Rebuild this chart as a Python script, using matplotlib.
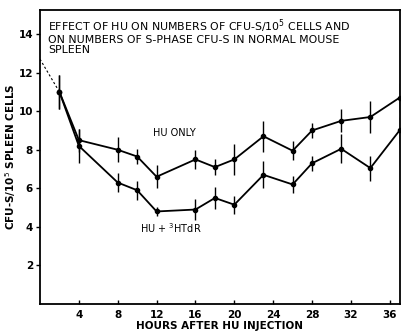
import matplotlib
matplotlib.use("Agg")
import matplotlib.pyplot as plt

hours = [2, 4, 8, 10, 12, 16, 18, 20, 23, 26, 28, 31, 34, 37]
hu_only = [11.0, 8.5, 8.0, 7.65, 6.6, 7.5, 7.1, 7.5, 8.7, 7.95, 9.0, 9.5, 9.7, 10.7]
hu_only_err = [0.9, 0.6, 0.65, 0.4, 0.6, 0.5, 0.4, 0.8, 0.8, 0.5, 0.4, 0.6, 0.85, 0.75]
hu_htdr = [11.0, 8.2, 6.3, 5.9, 4.8, 4.9, 5.5, 5.15, 6.7, 6.2, 7.3, 8.05, 7.05, 9.0]
hu_htdr_err = [0.9, 0.9, 0.5, 0.5, 0.25, 0.55, 0.55, 0.47, 0.7, 0.43, 0.4, 0.75, 0.65, 0.7]
extrap_x = [0, 2]
extrap_y = [12.7, 11.0]
xticks = [4, 8, 12, 16, 20, 24, 28, 32, 36]
yticks = [2, 4, 6, 8, 10, 12, 14]

plt.rcParams['font.family'] = ['DejaVu Sans']
fig = plt.figure(figsize=(4.02, 3.33), dpi=100)
ax = fig.add_axes([40/402, 1 - 304/333, 360/402, 294/333])

for y, e in [(hu_only, hu_only_err), (hu_htdr, hu_htdr_err)]:
    ax.errorbar(hours, y, yerr=e, color='black', lw=1.3, elinewidth=1.0,
                capsize=0, marker='o', ms=3)
ax.plot(extrap_x, extrap_y, color='black', lw=0.8, ls=(0, (2, 2)))

ax.set_xlim(0, 37.05)
ax.set_ylim(0, 15.25)
ax.set_xticks(xticks)
ax.set_yticks(yticks)
ax.set_xticklabels([str(t) for t in xticks], fontsize=7.5, fontweight='bold')
ax.set_yticklabels([str(t) for t in yticks], fontsize=7.5, fontweight='bold')
ax.tick_params(axis='x', direction='in', length=3, width=1, pad=4)
ax.tick_params(axis='y', direction='out', length=3, width=1, pad=2)
for s in ax.spines.values():
    s.set_linewidth(1.3)

ax.set_xlabel('HOURS AFTER HU INJECTION', fontsize=7.5, fontweight='bold', labelpad=1)
ax.set_ylabel('CFU-S/10$^5$ SPLEEN CELLS', fontsize=7.5, fontweight='bold')
ax.yaxis.set_label_coords(-0.062, 0.5)

ax.text(0.022, 0.975,
        'EFFECT OF HU ON NUMBERS OF CFU-S/10$^5$ CELLS AND\n'
        'ON NUMBERS OF S-PHASE CFU-S IN NORMAL MOUSE\nSPLEEN',
        transform=ax.transAxes, ha='left', va='top', fontsize=7.9,
        linespacing=1.0)
ax.text(11.6, 8.85, 'HU ONLY', fontsize=7, ha='left', va='center')
ax.text(10.3, 3.95, 'HU + $^3$HTdR', fontsize=7, ha='left', va='center')

fig.savefig('out.png', dpi=100)
